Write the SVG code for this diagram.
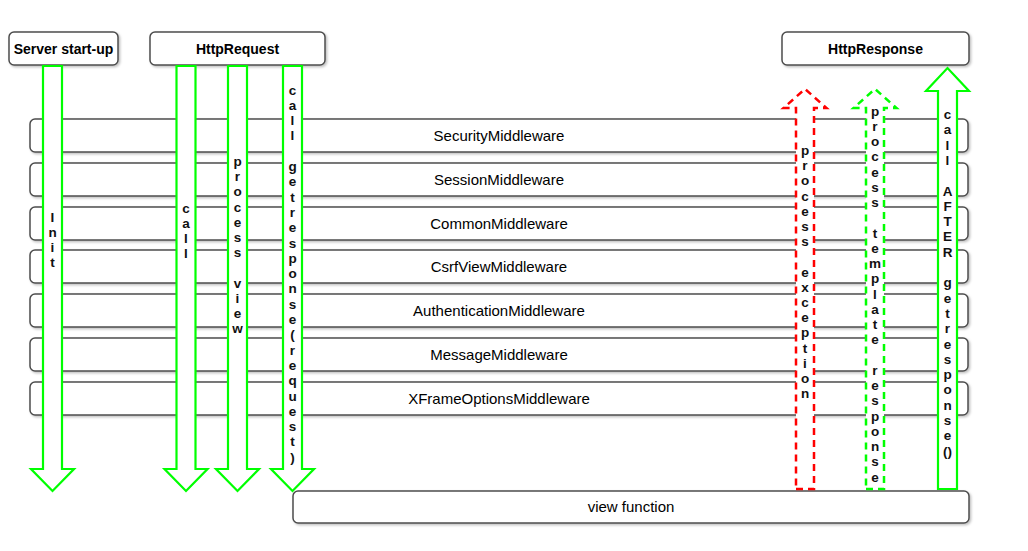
<svg xmlns="http://www.w3.org/2000/svg" width="1028" height="551" viewBox="0 0 1028 551">
  <style>
    .box { fill: #ffffff; stroke: #4d4d4d; stroke-width: 1.5; filter: url(#shadow); }
    .title { font-family: "Liberation Sans", Arial, sans-serif; font-size: 14px; font-weight: bold; fill: #000; text-anchor: middle; }
    .mw { font-family: "Liberation Sans", Arial, sans-serif; font-size: 15px; fill: #000; text-anchor: middle; }
    .vlabel { font-family: "Liberation Sans", Arial, sans-serif; font-size: 13.5px; font-weight: bold; fill: #111; text-anchor: middle; }
    .arrow-solid { fill: #ffffff; stroke: #00ff00; stroke-width: 2.2; stroke-linejoin: miter; }
    .arrow-red { fill: #ffffff; stroke: #ff0000; stroke-width: 2.5; stroke-dasharray: 7 5; }
    .arrow-green { fill: #ffffff; stroke: #00ff00; stroke-width: 2.5; stroke-dasharray: 7 5; }
  </style>
  <defs>
    <filter id="shadow" x="-5%" y="-20%" width="110%" height="150%">
      <feDropShadow dx="1.5" dy="1.5" stdDeviation="1" flood-color="#000" flood-opacity="0.25"/>
    </filter>
  </defs>
  <rect width="1028" height="551" fill="#ffffff"/>

  <!-- entry / exit nodes -->
  <g id="server-startup">
    <rect class="box" x="9" y="32" width="109" height="33" rx="5"/>
    <text class="title" x="63.5" y="53.5">Server start-up</text>
  </g>
  <g id="http-request">
    <rect class="box" x="150" y="32" width="175" height="33" rx="5"/>
    <text class="title" x="237.5" y="53.5">HttpRequest</text>
  </g>
  <g id="http-response">
    <rect class="box" x="782" y="32" width="187" height="33" rx="5"/>
    <text class="title" x="875.5" y="53.5">HttpResponse</text>
  </g>

  <!-- middleware stack -->
  <g id="security-middleware">
    <rect class="box" x="30" y="119" width="938" height="33" rx="5"/>
    <text class="mw" x="499" y="140.5">SecurityMiddleware</text>
  </g>
  <g id="session-middleware">
    <rect class="box" x="30" y="163" width="938" height="33" rx="5"/>
    <text class="mw" x="499" y="184.5">SessionMiddleware</text>
  </g>
  <g id="common-middleware">
    <rect class="box" x="30" y="207" width="938" height="33" rx="5"/>
    <text class="mw" x="499" y="228.5">CommonMiddleware</text>
  </g>
  <g id="csrf-view-middleware">
    <rect class="box" x="30" y="250" width="938" height="33" rx="5"/>
    <text class="mw" x="499" y="271.5">CsrfViewMiddleware</text>
  </g>
  <g id="authentication-middleware">
    <rect class="box" x="30" y="294" width="938" height="33" rx="5"/>
    <text class="mw" x="499" y="315.5">AuthenticationMiddleware</text>
  </g>
  <g id="message-middleware">
    <rect class="box" x="30" y="338" width="938" height="33" rx="5"/>
    <text class="mw" x="499" y="359.5">MessageMiddleware</text>
  </g>
  <g id="xframe-options-middleware">
    <rect class="box" x="30" y="382" width="938" height="33" rx="5"/>
    <text class="mw" x="499" y="403.5">XFrameOptionsMiddleware</text>
  </g>

  <g id="view-function">
    <rect class="box" x="293" y="491" width="676" height="32" rx="5"/>
    <text class="mw" x="631" y="512">view function</text>
  </g>

  <!-- block arrows: request phase goes down, response phase goes up -->
  <g id="connectors">
    <polygon class="arrow-solid" points="43,66 62,66 62,469 74,469 52.5,491 31,469 43,469"/>
    <polygon class="arrow-solid" points="176.5,66 195.5,66 195.5,469 207.5,469 186,491 164.5,469 176.5,469"/>
    <polygon class="arrow-solid" points="228,66 247,66 247,469 259,469 237.5,491 216,469 228,469"/>
    <polygon class="arrow-solid" points="283,66 302,66 302,469 314,469 292.5,491 271,469 283,469"/>

    <polygon class="arrow-red" points="796,489 814,489 814,108 826.5,108 805,89 783.5,108 796,108"/>
    <polygon class="arrow-green" points="866,489 884,489 884,108 896.5,108 875,89 853.5,108 866,108"/>
    <polygon class="arrow-solid" points="938,489 957,489 957,91 969,91 947.5,68 926,91 938,91"/>

    <text class="vlabel" x="52.5" y="222"><tspan x="52.5">I</tspan><tspan x="52.5" dy="15">n</tspan><tspan x="52.5" dy="15">i</tspan><tspan x="52.5" dy="15">t</tspan></text>

    <text class="vlabel" x="186" y="213"><tspan x="186">c</tspan><tspan x="186" dy="15">a</tspan><tspan x="186" dy="15">l</tspan><tspan x="186" dy="15">l</tspan></text>

    <text class="vlabel" x="237.5" y="166"><tspan x="237.5">p</tspan><tspan x="237.5" dy="15.2">r</tspan><tspan x="237.5" dy="15.2">o</tspan><tspan x="237.5" dy="15.2">c</tspan><tspan x="237.5" dy="15.2">e</tspan><tspan x="237.5" dy="15.2">s</tspan><tspan x="237.5" dy="15.2">s</tspan><tspan x="237.5" dy="30.4">v</tspan><tspan x="237.5" dy="15.2">i</tspan><tspan x="237.5" dy="15.2">e</tspan><tspan x="237.5" dy="15.2">w</tspan></text>

    <text class="vlabel" x="292.5" y="94.5"><tspan x="292.5">c</tspan><tspan x="292.5" dy="15.3">a</tspan><tspan x="292.5" dy="15.3">l</tspan><tspan x="292.5" dy="15.3">l</tspan><tspan x="292.5" dy="30.6">g</tspan><tspan x="292.5" dy="15.3">e</tspan><tspan x="292.5" dy="15.3">t</tspan><tspan x="292.5" dy="15.3">r</tspan><tspan x="292.5" dy="15.3">e</tspan><tspan x="292.5" dy="15.3">s</tspan><tspan x="292.5" dy="15.3">p</tspan><tspan x="292.5" dy="15.3">o</tspan><tspan x="292.5" dy="15.3">n</tspan><tspan x="292.5" dy="15.3">s</tspan><tspan x="292.5" dy="15.3">e</tspan><tspan x="292.5" dy="15.3">(</tspan><tspan x="292.5" dy="15.3">r</tspan><tspan x="292.5" dy="15.3">e</tspan><tspan x="292.5" dy="15.3">q</tspan><tspan x="292.5" dy="15.3">u</tspan><tspan x="292.5" dy="15.3">e</tspan><tspan x="292.5" dy="15.3">s</tspan><tspan x="292.5" dy="15.3">t</tspan><tspan x="292.5" dy="15.3">)</tspan></text>

    <text class="vlabel" x="805" y="155"><tspan x="805">p</tspan><tspan x="805" dy="15.2">r</tspan><tspan x="805" dy="15.2">o</tspan><tspan x="805" dy="15.2">c</tspan><tspan x="805" dy="15.2">e</tspan><tspan x="805" dy="15.2">s</tspan><tspan x="805" dy="15.2">s</tspan><tspan x="805" dy="30.4">e</tspan><tspan x="805" dy="15.2">x</tspan><tspan x="805" dy="15.2">c</tspan><tspan x="805" dy="15.2">e</tspan><tspan x="805" dy="15.2">p</tspan><tspan x="805" dy="15.2">t</tspan><tspan x="805" dy="15.2">i</tspan><tspan x="805" dy="15.2">o</tspan><tspan x="805" dy="15.2">n</tspan></text>

    <text class="vlabel" x="875" y="115.5"><tspan x="875">p</tspan><tspan x="875" dy="15.25">r</tspan><tspan x="875" dy="15.25">o</tspan><tspan x="875" dy="15.25">c</tspan><tspan x="875" dy="15.25">e</tspan><tspan x="875" dy="15.25">s</tspan><tspan x="875" dy="15.25">s</tspan><tspan x="875" dy="30.5">t</tspan><tspan x="875" dy="15.25">e</tspan><tspan x="875" dy="15.25">m</tspan><tspan x="875" dy="15.25">p</tspan><tspan x="875" dy="15.25">l</tspan><tspan x="875" dy="15.25">a</tspan><tspan x="875" dy="15.25">t</tspan><tspan x="875" dy="15.25">e</tspan><tspan x="875" dy="30.5">r</tspan><tspan x="875" dy="15.25">e</tspan><tspan x="875" dy="15.25">s</tspan><tspan x="875" dy="15.25">p</tspan><tspan x="875" dy="15.25">o</tspan><tspan x="875" dy="15.25">n</tspan><tspan x="875" dy="15.25">s</tspan><tspan x="875" dy="15.25">e</tspan></text>

    <text class="vlabel" x="947.5" y="119"><tspan x="947.5">c</tspan><tspan x="947.5" dy="15.3">a</tspan><tspan x="947.5" dy="15.3">l</tspan><tspan x="947.5" dy="15.3">l</tspan><tspan x="947.5" dy="30.6">A</tspan><tspan x="947.5" dy="15.3">F</tspan><tspan x="947.5" dy="15.3">T</tspan><tspan x="947.5" dy="15.3">E</tspan><tspan x="947.5" dy="15.3">R</tspan><tspan x="947.5" dy="30.6">g</tspan><tspan x="947.5" dy="15.3">e</tspan><tspan x="947.5" dy="15.3">t</tspan><tspan x="947.5" dy="15.3">r</tspan><tspan x="947.5" dy="15.3">e</tspan><tspan x="947.5" dy="15.3">s</tspan><tspan x="947.5" dy="15.3">p</tspan><tspan x="947.5" dy="15.3">o</tspan><tspan x="947.5" dy="15.3">n</tspan><tspan x="947.5" dy="15.3">s</tspan><tspan x="947.5" dy="15.3">e</tspan><tspan x="947.5" dy="15.3">()</tspan></text>
  </g>
</svg>
